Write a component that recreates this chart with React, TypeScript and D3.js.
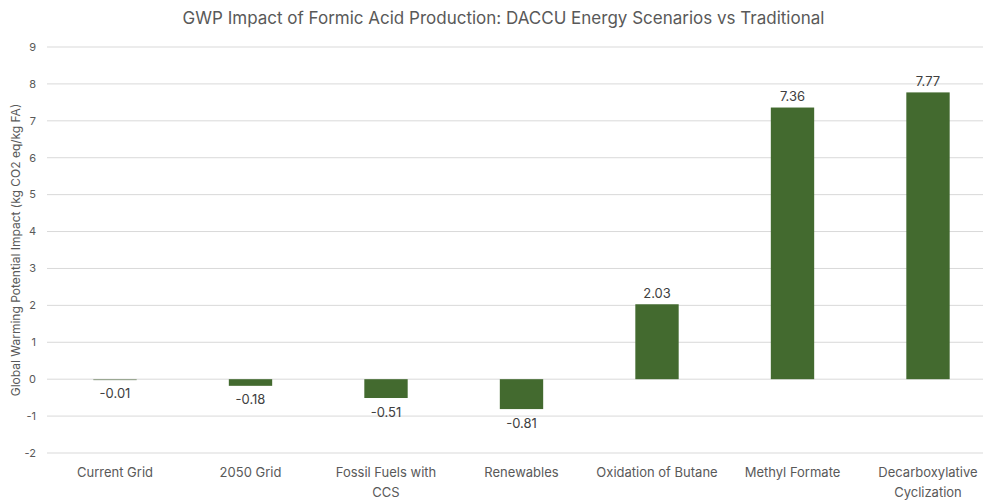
import React from "react";
import * as d3 from "d3";

const title = "GWP Impact of Formic Acid Production: DACCU Energy Scenarios vs Traditional";
const yAxisTitle = "Global Warming Potential Impact (kg CO2 eq/kg FA)";
const categories = [
  "Current Grid",
  "2050 Grid",
  "Fossil Fuels with CCS",
  "Renewables",
  "Oxidation of Butane",
  "Methyl Formate",
  "Decarboxylative Cyclization",
];
const values = [-0.01, -0.18, -0.51, -0.81, 2.03, 7.36, 7.77];
const yTicks = [-2, -1, 0, 1, 2, 3, 4, 5, 6, 7, 8, 9];

const W = 983;
const H = 502;
const FONT = "Inter, 'Open Sans', 'Noto Sans', sans-serif";
const BAR = "#436A2F";

function measure(text: string, font: string): number {
  const c = document.createElement("canvas").getContext("2d")!;
  c.font = font;
  return c.measureText(text).width;
}

function wrap(text: string, maxW: number, font: string): string[] {
  const words = text.split(" ");
  const lines: string[] = [];
  let cur = "";
  for (const w of words) {
    const t = cur ? cur + " " + w : w;
    if (measure(t, font) > maxW && cur) {
      lines.push(cur);
      cur = w;
    } else cur = t;
  }
  if (cur) lines.push(cur);
  return lines;
}

export default function App() {
  const x = d3.scaleBand<string>().domain(categories).range([47.25, 995.75]).paddingInner(0.68).paddingOuter(0.34);
  const y = d3.scaleLinear().domain([-2, 9]).range([453, 47]);
  const y0 = y(0);
  const labelFont = `13px ${FONT}`;
  // wrap width: between the widths of the longest single-line label and the first wrapped label
  const maxW = (measure("Oxidation of Butane", labelFont) + measure("Fossil Fuels with CCS", labelFont)) / 2;
  return (
    <svg width={W} height={H} style={{ position: "absolute", left: 0, top: 0, background: "#fff" }}>
      <text x={W / 2 + 12} y={24} textAnchor="middle" fontFamily={FONT} fontSize={17} fill="#595959">
        {title}
      </text>
      <text
        transform={`translate(20,${y(3.5)}) rotate(-90)`}
        textAnchor="middle"
        fontFamily={FONT}
        fontSize={12}
        fill="#595959"
      >
        {yAxisTitle}
      </text>
      {yTicks.map((t) => (
        <g key={t}>
          <line x1={47} x2={W} y1={y(t)} y2={y(t)} stroke="#D9D9D9" strokeWidth={1} />
          <text x={36} y={y(t)} dy="0.35em" textAnchor="end" fontFamily={FONT} fontSize={11} fill="#595959">
            {t}
          </text>
        </g>
      ))}
      {categories.map((c, i) => {
        const v = values[i];
        const bx = x(c)!;
        const bw = x.bandwidth();
        const top = Math.min(y(v), y0);
        const h = Math.max(Math.abs(y(v) - y0), 1);
        const cx = bx + bw / 2;
        const lines = wrap(c, maxW, labelFont);
        return (
          <g key={c}>
            <rect x={bx} y={top} width={bw} height={h} fill={Math.abs(v) < 0.05 ? "#8a9a80" : BAR} />
            <text
              x={cx}
              y={v >= 0 ? y(v) - 11 : Math.max(y(v), y0 + 0.4) + 14}
              dy="0.35em"
              textAnchor="middle"
              fontFamily={FONT}
              fontSize={13}
              fill="#404040"
            >
              {v.toFixed(2)}
            </text>
            {lines.map((ln, k) => (
              <text
                key={k}
                x={cx}
                y={472 + k * 20}
                dy="0.35em"
                textAnchor="middle"
                fontFamily={FONT}
                fontSize={13}
                fill="#595959"
              >
                {ln}
              </text>
            ))}
          </g>
        );
      })}
    </svg>
  );
}
